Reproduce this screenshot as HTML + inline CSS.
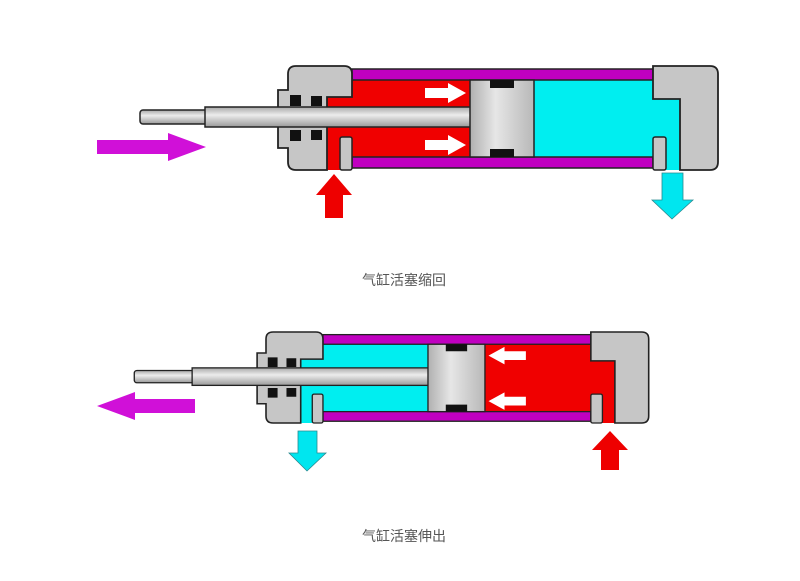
<!DOCTYPE html>
<html><head><meta charset="utf-8"><style>
html,body{margin:0;padding:0;background:#fff;}
svg{display:block}
text{font-family:"Liberation Sans","Noto Sans CJK SC",sans-serif;}
</style></head><body>
<svg width="800" height="581" viewBox="0 0 800 581" xmlns="http://www.w3.org/2000/svg">
<defs>
<linearGradient id="rod" x1="0" y1="0" x2="0" y2="1">
<stop offset="0" stop-color="#a8a8a8"/><stop offset="0.4" stop-color="#ececec"/><stop offset="1" stop-color="#9a9a9a"/>
</linearGradient>
<linearGradient id="pis" x1="0" y1="0" x2="1" y2="0">
<stop offset="0" stop-color="#b0b0b0"/><stop offset="0.4" stop-color="#e6e6e6"/><stop offset="1" stop-color="#b8b8b8"/>
</linearGradient>
<g id="body">
<rect x="352" y="69" width="301" height="11" fill="#c000c0" stroke="#222" stroke-width="1.5"/>
<rect x="352" y="157" width="301" height="11" fill="#c000c0" stroke="#222" stroke-width="1.5"/>
<path d="M296 66 H344 Q352 66 352 74 V97 H327 V170 H296 Q288 170 288 162 V148 H278 V90 H288 V74 Q288 66 296 66 Z" fill="#c6c6c6" stroke="#222" stroke-width="1.8"/>
<rect x="340" y="137" width="12" height="33" rx="2" fill="#c6c6c6" stroke="#222" stroke-width="1.5"/>
<path d="M653 66 H710 Q718 66 718 74 V162 Q718 170 710 170 H680 V99 H653 Z" fill="#c6c6c6" stroke="#222" stroke-width="1.8"/>
<rect x="653" y="137" width="13" height="33" rx="2" fill="#c6c6c6" stroke="#222" stroke-width="1.5"/>
<rect x="290" y="95" width="11" height="11" fill="#111"/>
<rect x="311" y="96" width="11" height="10" fill="#111"/>
<rect x="290" y="130" width="11" height="11" fill="#111"/>
<rect x="311" y="130" width="11" height="10" fill="#111"/>
<rect x="140" y="110" width="70" height="14" rx="3" fill="url(#rod)" stroke="#222" stroke-width="1.5"/>
<rect x="205" y="107" width="266" height="20" fill="url(#rod)" stroke="#222" stroke-width="1.5"/>
<rect x="470" y="80" width="64" height="77" fill="url(#pis)" stroke="#222" stroke-width="1.5"/>
<rect x="490" y="80" width="24" height="8" fill="#111"/>
<rect x="490" y="149" width="24" height="8" fill="#111"/>
</g>
</defs>

<!-- TOP -->
<g>
<rect x="327" y="80" width="143" height="77" fill="#f00000"/>
<rect x="327" y="137" width="13" height="33" fill="#f00000"/>
<rect x="534" y="80" width="146" height="77" fill="#00eef0"/>
<rect x="653" y="99" width="27" height="71" fill="#00eef0"/>
<use href="#body"/>
<path d="M425 88 H448 V83 L466 93 L448 103 V98 H425 Z" fill="#fff"/>
<path d="M425 140 H448 V135 L466 145 L448 155 V150 H425 Z" fill="#fff"/>
</g>
<path d="M97 140 H168 V133 L206 147 L168 161 V154 H97 Z" fill="#d010d8"/>
<path d="M325 218 V195 H316 L334 174 L352 195 H343 V218 Z" fill="#ee0000"/>
<path d="M662 173 H683 V200 H693 L672 219 L652 200 H662 Z" fill="#00e6ef" stroke="#2a8a90" stroke-width="0.8"/>
<text x="404" y="285" font-size="14" fill="#555" text-anchor="middle">气缸活塞缩回</text>

<!-- BOTTOM -->
<g transform="translate(266,332) scale(0.89,0.875) translate(-288,-66)">
<rect x="327" y="80" width="143" height="77" fill="#00eef0"/>
<rect x="327" y="137" width="13" height="33" fill="#00eef0"/>
<rect x="534" y="80" width="146" height="77" fill="#f00000"/>
<rect x="653" y="99" width="27" height="71" fill="#f00000"/>
<use href="#body"/>
<path d="M580 88 H556 V83 L538 93 L556 103 V98 H580 Z" fill="#fff"/>
<path d="M580 140 H556 V135 L538 145 L556 155 V150 H580 Z" fill="#fff"/>
</g>
<path d="M195 399 H135 V392 L97 406 L135 420 V413 H195 Z" fill="#d010d8"/>
<path d="M298 431 H317 V453 H326 L307 471 L289 453 H298 Z" fill="#00e6ef" stroke="#2a8a90" stroke-width="0.8"/>
<path d="M601 470 V450 H592 L610 431 L628 450 H619 V470 Z" fill="#ee0000"/>
<text x="404" y="541" font-size="14" fill="#555" text-anchor="middle">气缸活塞伸出</text>
</svg>
</body></html>
